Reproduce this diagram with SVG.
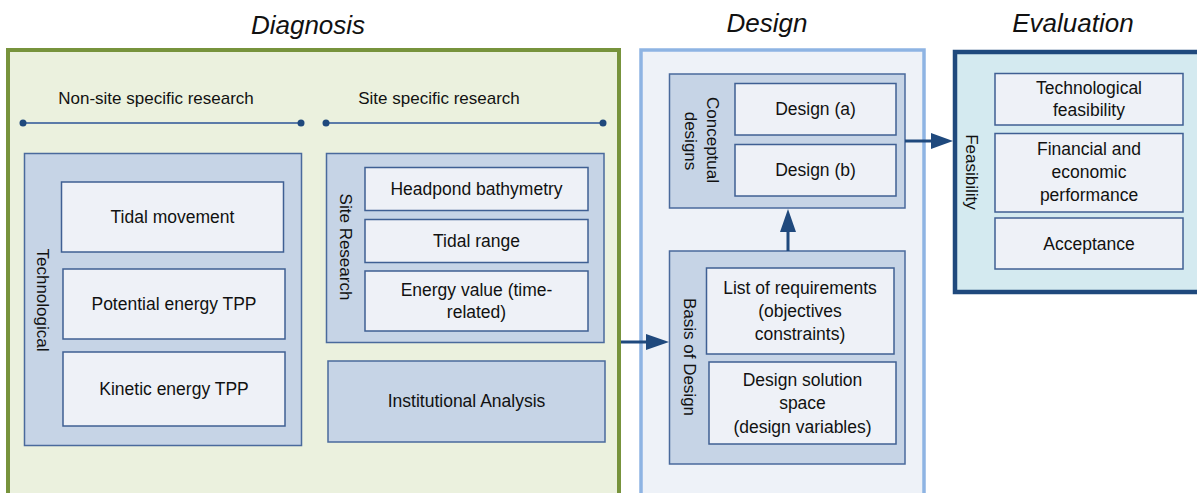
<svg xmlns="http://www.w3.org/2000/svg" width="1197" height="493" viewBox="0 0 1197 493">
<defs>
<style>
text{font-family:"Liberation Sans",Arial,sans-serif;fill:#111;}
.title{font-size:26px;font-style:italic;text-anchor:middle;}
.lbl{font-size:17px;text-anchor:middle;}
.bt{font-size:17.5px;text-anchor:middle;}
.cont{fill:#C6D4E6;stroke:#4A6A9C;stroke-width:1.5;}
.inner{fill:#EEF1F7;stroke:#3F5F93;stroke-width:1.5;}
.arrow{stroke:#1F497D;stroke-width:3;fill:none;}
.head{fill:#1F497D;}
.tl{stroke:#5B7BA8;stroke-width:2;}
.dot{fill:#1F497D;}
</style>
</defs>

<text class="title" x="308" y="34">Diagnosis</text>
<text class="title" x="767" y="32">Design</text>
<text class="title" x="1073" y="32">Evaluation</text>

<g id="diagnosis">
<rect x="8" y="50" width="611" height="460" fill="#EBF1DE" stroke="#77933C" stroke-width="4"/>
</g>
<g id="design">
<rect x="641" y="50" width="283" height="460" fill="#EEF2F8" stroke="#8EB4E3" stroke-width="3.5"/>
</g>
<g id="evaluation">
<rect x="955" y="52" width="260" height="240" fill="#D4EAF0" stroke="#1F497D" stroke-width="4.5"/>
</g>

<g id="nonsite">
<text class="lbl" x="156" y="104">Non-site specific research</text>
<line class="tl" x1="23" y1="123" x2="301" y2="123"/>
<circle class="dot" cx="23" cy="123" r="3.5"/>
<circle class="dot" cx="301" cy="123" r="3.5"/>
</g>
<g id="site">
<text class="lbl" x="439" y="104">Site specific research</text>
<line class="tl" x1="326" y1="123" x2="603" y2="123"/>
<circle class="dot" cx="326" cy="123" r="3.5"/>
<circle class="dot" cx="603" cy="123" r="3.5"/>
</g>

<g id="technological">
<rect class="cont" x="24.5" y="153.5" width="277" height="292"/>
<text class="lbl" transform="translate(43,300) rotate(90)" y="6">Technological</text>
</g>
<g id="tidal-movement">
<rect class="inner" x="61.5" y="182" width="222" height="70"/>
<text class="bt" x="172.5" y="223">Tidal movement</text>
</g>
<g id="potential">
<rect class="inner" x="63" y="269" width="222" height="70"/>
<text class="bt" x="174" y="310">Potential energy TPP</text>
</g>
<g id="kinetic">
<rect class="inner" x="63" y="352" width="222" height="74"/>
<text class="bt" x="174" y="395">Kinetic energy TPP</text>
</g>

<g id="site-research">
<rect class="cont" x="326.5" y="153.5" width="277.5" height="189"/>
<text class="lbl" transform="translate(346,247) rotate(90)" y="6">Site Research</text>
</g>
<g id="headpond">
<rect class="inner" x="365" y="167.5" width="223" height="43"/>
<text class="bt" x="476.5" y="195">Headpond bathymetry</text>
</g>
<g id="tidal-range">
<rect class="inner" x="365" y="219.5" width="223" height="43"/>
<text class="bt" x="476.5" y="247">Tidal range</text>
</g>
<g id="energy-value">
<rect class="inner" x="365" y="271" width="223" height="60"/>
<text class="bt" x="476.5" y="296">Energy value (time-</text>
<text class="bt" x="476.5" y="318">related)</text>
</g>
<g id="institutional">
<rect class="cont" x="328" y="361" width="277" height="81"/>
<text class="bt" x="466.5" y="407">Institutional Analysis</text>
</g>

<g id="conceptual">
<rect class="cont" x="669.5" y="74" width="235.5" height="134"/>
<text class="lbl" transform="translate(713,140) rotate(90)" y="6">Conceptual</text>
<text class="lbl" transform="translate(691,141) rotate(90)" y="6">designs</text>
</g>
<g id="design-a">
<rect class="inner" x="735" y="83.5" width="161" height="51.5"/>
<text class="bt" x="815.5" y="115">Design (a)</text>
</g>
<g id="design-b">
<rect class="inner" x="735" y="144.5" width="161" height="51.5"/>
<text class="bt" x="815.5" y="176">Design (b)</text>
</g>

<g id="basis">
<rect class="cont" x="669.5" y="251" width="235.5" height="213"/>
<text class="lbl" transform="translate(690,357) rotate(90)" y="6">Basis of Design</text>
</g>
<g id="requirements">
<rect class="inner" x="706.5" y="268" width="187.5" height="86"/>
<text class="bt" x="800" y="294">List of requirements</text>
<text class="bt" x="800" y="317">(objectives</text>
<text class="bt" x="800" y="340">constraints)</text>
</g>
<g id="solution-space">
<rect class="inner" x="709" y="362" width="187" height="82"/>
<text class="bt" x="802.5" y="386">Design solution</text>
<text class="bt" x="802.5" y="409">space</text>
<text class="bt" x="802.5" y="433">(design variables)</text>
</g>

<g id="feasibility">
<text class="lbl" transform="translate(972,172) rotate(90)" y="6">Feasibility</text>
</g>
<g id="tech-feasibility">
<rect class="inner" x="995" y="73.5" width="188" height="51.5"/>
<text class="bt" x="1089" y="94">Technological</text>
<text class="bt" x="1089" y="116">feasibility</text>
</g>
<g id="financial">
<rect class="inner" x="995" y="133.5" width="188" height="78.5"/>
<text class="bt" x="1089" y="155">Financial and</text>
<text class="bt" x="1089" y="178">economic</text>
<text class="bt" x="1089" y="201">performance</text>
</g>
<g id="acceptance">
<rect class="inner" x="995" y="218" width="188" height="51"/>
<text class="bt" x="1089" y="250">Acceptance</text>
</g>

<g id="connectors">
<line class="arrow" x1="621" y1="342" x2="648" y2="342"/>
<polygon class="head" points="646,334 669,342 646,350"/>
<line class="arrow" x1="788" y1="251" x2="788" y2="230"/>
<polygon class="head" points="780,232 788,209 796,232"/>
<line class="arrow" x1="905" y1="141" x2="933" y2="141"/>
<polygon class="head" points="931,133 953,141 931,149"/>
</g>
</svg>
